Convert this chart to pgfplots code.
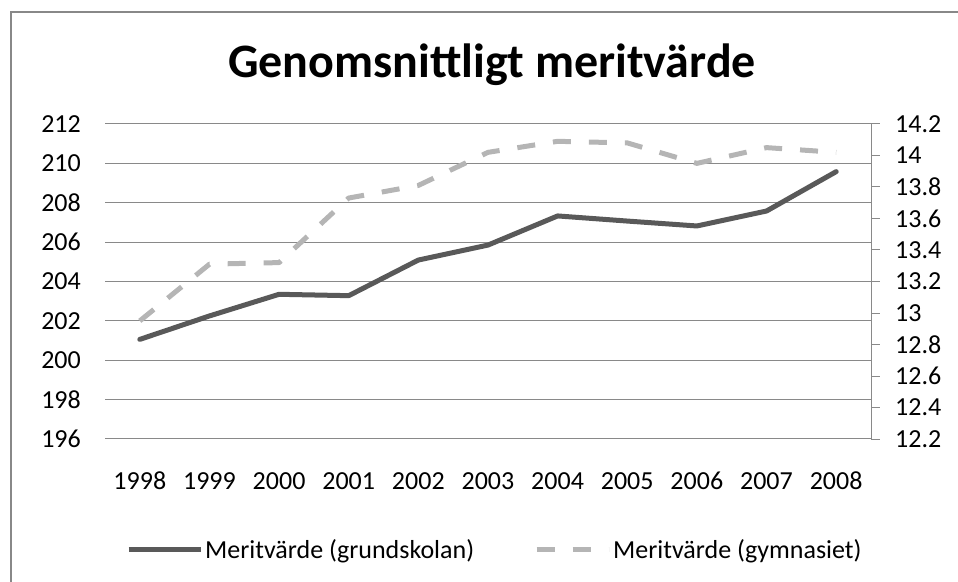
\documentclass[border=0pt]{standalone}
\usepackage{pgfplots}
\pgfplotsset{compat=1.18}
\usepackage{fontspec}
\setmainfont{Carlito}
\definecolor{solidc}{HTML}{595959}
\definecolor{dashc}{HTML}{B5B5B5}
\definecolor{gridc}{HTML}{898989}
\definecolor{borderc}{HTML}{888888}
\begin{document}
\begin{tikzpicture}[x=1pt,y=1pt]
\useasboundingbox (0,0) rectangle (958,581);
\draw[borderc, line width=1.5pt] (11,-5) -- (11,569) -- (965,569);
\node[anchor=base, font=\bfseries\fontsize{48}{57}\selectfont] at (492,503) {Genomsnittligt meritvärde};
\begin{axis}[
  at={(105pt,142pt)}, anchor=south west,
  scale only axis, width=766pt, height=315pt,
  xmin=1997.5, xmax=2008.5, ymin=196, ymax=212,
  xtick={1998,1999,...,2008}, ytick={196,198,...,212},
  /pgf/number format/assume math mode=true,
  /pgf/number format/1000 sep={},
  every tick label/.append style={font=\fontsize{26}{31}\selectfont, text=black},
  xticklabel style={anchor=base, inner sep=0pt, yshift=-50pt},
  yticklabel style={anchor=east, inner sep=0pt, xshift=-24pt},
  major tick length=0pt,
  axis line style={draw=none},
  ymajorgrids, grid style={gridc, line width=1pt},
  clip=false,
]
\addplot[solidc, line width=5pt, line join=round, line cap=round] coordinates {
(1998,201.06) (1999,202.25) (2000,203.35) (2001,203.28) (2002,205.09) (2003,205.85)
(2004,207.33) (2005,207.07) (2006,206.82) (2007,207.58) (2008,209.58)};
\end{axis}
\begin{axis}[
  at={(105pt,142pt)}, anchor=south west,
  scale only axis, width=766pt, height=315pt,
  xmin=1997.5, xmax=2008.5, ymin=12.2, ymax=14.2,
  axis x line=none, axis y line*=right,
  ytick={12.2,12.4,12.6,12.8,13,13.2,13.4,13.6,13.8,14,14.2},
  /pgf/number format/assume math mode=true,
  every tick label/.append style={font=\fontsize{26}{31}\selectfont, text=black},
  yticklabel style={anchor=west, inner sep=0pt, xshift=15pt},
  tick align=outside, major tick length=9pt,
  y axis line style={gridc, line width=1pt},
  every tick/.style={gridc, line width=1pt},
  clip=false,
  legend columns=2,
  legend style={at={(axis description cs:0.0274,-0.352)}, anchor=west, draw=none, fill=none,
    inner sep=0pt, font=\fontsize{26}{31}\selectfont,
    nodes={inner sep=0pt},
    /tikz/every odd column/.append style={column sep=2pt},
    /tikz/every even column/.append style={column sep=60pt}},
  legend image code/.code={\draw[#1] (0pt,0pt) -- (72pt,0pt);},
]
\addlegendimage{solidc, line width=5pt}
\addlegendentry{Meritvärde (grundskolan)}
\addplot[dashc, line width=5pt, line cap=butt, line join=round, dash pattern=on 18pt off 18pt] coordinates {
(1998,12.95) (1999,13.31) (2000,13.32) (2001,13.73) (2002,13.81) (2003,14.02)
(2004,14.09) (2005,14.08) (2006,13.95) (2007,14.05) (2008,14.02)};
\addlegendentry{Meritvärde (gymnasiet)}
\end{axis}
\end{tikzpicture}
\end{document}
